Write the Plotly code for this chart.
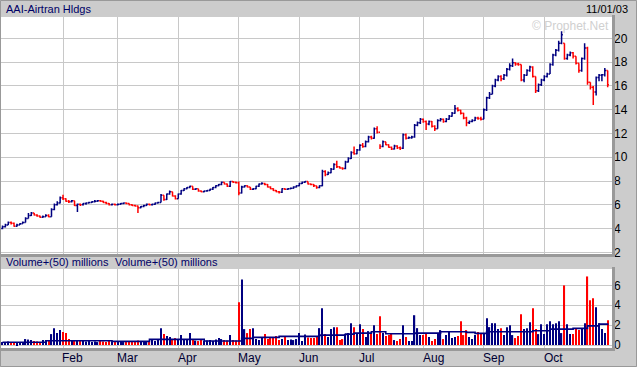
import plotly.graph_objects as go
import pandas as pd

# ---------------- data ----------------
holidays = ["2003-01-20", "2003-02-17", "2003-04-18", "2003-05-26", "2003-07-04", "2003-09-01"]
dates = [d for d in pd.bdate_range("2003-01-02", "2003-10-31") if d.strftime("%Y-%m-%d") not in holidays]

close_jan = [4.15,4.30,4.50,4.45,4.20,4.30,4.40,4.50,4.85,5.10,5.30,5.15,5.05,4.95,5.00,5.10,5.00,5.60,6.00,6.15,6.60]
open_jan  = [4.00,4.15,4.30,4.50,4.45,4.20,4.30,4.40,4.50,4.85,5.10,5.30,5.15,5.05,4.95,5.00,5.10,5.00,5.60,6.00,6.15]
high_jan  = [4.25,4.40,4.60,4.60,4.50,4.40,4.45,4.60,4.95,5.30,5.40,5.30,5.20,5.10,5.10,5.20,5.20,5.70,6.10,6.30,6.70]
low_jan   = [3.95,4.10,4.30,4.35,4.15,4.15,4.30,4.40,4.50,4.85,5.05,5.10,5.00,4.90,4.90,5.00,4.95,5.00,5.55,5.95,6.10]

close_feb = [6.50,6.30,6.25,6.35,5.95,6.05,6.00,6.10,6.15,6.20,6.25,6.30,6.35,6.30,6.20,6.10,6.00,6.05,6.00]
open_feb  = [6.60,6.50,6.30,6.25,6.35,5.95,6.05,6.00,6.10,6.15,6.20,6.25,6.30,6.35,6.30,6.20,6.10,6.00,6.05]
high_feb  = [6.85,6.55,6.40,6.40,6.35,6.10,6.10,6.15,6.20,6.25,6.30,6.40,6.40,6.40,6.35,6.25,6.15,6.10,6.10]
low_feb   = [6.40,6.25,6.15,6.20,5.90,5.40,5.90,5.95,6.00,6.10,6.15,6.20,6.25,6.25,6.15,6.05,5.95,5.95,5.95]

close_mar = [6.05,6.10,6.15,6.10,6.00,5.95,5.90,5.75,5.85,5.95,6.05,6.00,6.05,6.15,6.20,6.80,6.45,6.90,7.10,6.75,6.50]
open_mar  = [6.00,6.05,6.10,6.15,6.10,6.00,5.95,5.90,5.75,5.85,5.95,6.05,6.00,6.05,6.15,6.20,6.80,6.45,6.90,7.10,6.75]
high_mar  = [6.10,6.15,6.20,6.20,6.10,6.05,6.00,5.95,5.90,6.00,6.10,6.10,6.10,6.20,6.25,6.90,6.80,6.95,7.20,7.10,6.80]
low_mar   = [5.95,6.00,6.05,6.05,5.95,5.90,5.85,5.30,5.70,5.80,5.90,5.95,5.95,6.00,6.10,6.20,6.35,6.40,6.85,6.70,6.45]

close_apr = [6.90,7.20,7.35,7.45,7.55,7.30,7.35,7.15,7.10,7.15,7.20,7.30,7.45,7.60,7.70,7.90,7.75,7.55,7.95,7.90,7.85]
open_apr  = [6.50,6.90,7.20,7.35,7.45,7.55,7.30,7.35,7.15,7.10,7.15,7.20,7.30,7.45,7.60,7.70,7.90,7.75,7.55,7.95,7.90]
high_apr  = [6.95,7.25,7.40,7.50,7.60,7.55,7.40,7.35,7.20,7.20,7.25,7.35,7.50,7.65,7.75,7.95,7.90,7.80,8.00,8.00,7.95]
low_apr   = [6.50,6.85,7.15,7.30,7.40,7.25,7.25,7.10,7.05,7.05,7.10,7.15,7.25,7.40,7.55,7.65,7.70,7.50,7.50,7.85,7.80]

close_may = [7.00,7.50,7.60,7.50,7.30,7.35,7.55,7.75,7.80,7.70,7.50,7.35,7.20,7.10,7.05,7.35,7.30,7.35,7.40,7.50,7.60]
open_may  = [7.85,7.00,7.50,7.60,7.50,7.30,7.35,7.55,7.75,7.80,7.70,7.50,7.35,7.20,7.10,7.05,7.35,7.30,7.35,7.40,7.50]
high_may  = [7.95,7.60,7.65,7.65,7.50,7.40,7.60,7.80,7.90,7.85,7.75,7.55,7.40,7.25,7.15,7.40,7.40,7.40,7.45,7.55,7.65]
low_may   = [6.80,6.95,7.45,7.45,7.25,7.25,7.30,7.50,7.70,7.65,7.45,7.30,7.15,7.05,6.95,7.00,7.25,7.25,7.30,7.35,7.45]

close_jun = [7.80,7.90,7.95,7.75,7.70,7.60,7.45,7.60,8.80,8.55,8.70,9.00,9.40,9.20,9.10,9.05,9.60,9.90,10.40,10.30,10.60]
open_jun  = [7.60,7.80,7.90,7.95,7.75,7.70,7.60,7.45,7.60,8.80,8.55,8.70,9.00,9.40,9.20,9.10,9.05,9.60,9.90,10.40,10.30]
high_jun  = [7.85,7.95,8.00,7.95,7.80,7.75,7.60,7.65,8.95,8.90,8.80,9.10,9.50,9.70,9.25,9.15,9.70,10.00,10.50,10.90,10.70]
low_jun   = [7.55,7.75,7.85,7.70,7.65,7.50,7.35,7.40,7.55,8.40,8.50,8.65,8.95,9.10,9.05,8.95,9.00,9.55,9.85,10.20,10.25]

close_jul = [11.00,10.90,11.30,11.70,11.60,12.40,12.10,10.90,11.30,11.05,10.85,10.70,10.95,10.80,10.75,11.90,11.60,11.65,11.70,12.70,12.90,13.20]
open_jul  = [10.60,11.00,10.90,11.30,11.70,11.60,12.40,12.10,10.90,11.30,11.05,10.85,10.70,10.95,10.80,10.75,11.90,11.60,11.65,11.70,12.70,12.90]
high_jul  = [11.10,11.20,11.40,11.80,11.80,12.50,12.60,11.10,11.40,11.30,11.10,10.90,11.05,11.00,10.90,12.00,12.00,11.75,11.80,12.80,13.00,13.30]
low_jul   = [10.55,10.80,10.85,11.25,11.50,11.55,12.00,10.70,10.85,11.00,10.80,10.60,10.65,10.70,10.60,10.70,11.50,11.55,11.55,11.65,12.60,12.80]

close_aug = [13.00,12.80,13.00,12.60,12.40,13.10,13.20,13.00,13.20,13.45,13.70,14.10,13.95,13.70,13.30,12.90,13.00,13.10,13.30,13.25,13.20]
open_aug  = [13.20,13.00,12.80,13.00,12.60,12.40,13.10,13.20,13.00,13.20,13.45,13.70,14.10,13.95,13.70,13.30,12.90,13.00,13.10,13.30,13.25]
high_aug  = [13.25,13.10,13.10,13.05,12.70,13.20,13.30,13.25,13.30,13.55,13.80,14.40,14.20,14.00,13.75,13.40,13.10,13.20,13.40,13.40,13.40]
low_aug   = [12.90,12.30,12.70,12.50,12.20,12.40,13.00,12.90,12.95,13.15,13.40,13.65,13.85,13.60,13.20,12.60,12.80,12.95,13.05,13.15,13.10]

close_sep = [14.00,15.00,15.30,16.00,16.50,16.80,16.60,16.90,17.40,17.70,17.95,17.85,17.80,16.50,16.90,17.30,17.60,16.80,15.60,16.10,16.50]
open_sep  = [13.20,14.00,15.00,15.30,16.00,16.50,16.80,16.60,16.90,17.40,17.70,17.95,17.85,17.80,16.50,16.90,17.30,17.60,16.80,15.60,16.10]
high_sep  = [14.10,15.10,15.50,16.10,16.60,16.90,16.90,17.00,17.50,17.90,18.30,18.00,17.95,17.80,17.00,17.40,17.70,17.65,16.80,16.20,16.60]
low_sep   = [13.20,13.90,14.90,15.30,15.90,16.40,16.40,16.50,16.80,17.30,17.60,17.70,17.70,16.40,16.30,16.85,17.20,16.70,15.40,15.50,16.00]

close_oct = [16.80,17.00,17.80,18.60,19.00,19.60,20.30,18.30,18.60,18.80,18.50,17.90,17.30,18.30,19.20,16.30,15.90,15.50,16.70,16.90,16.95,17.30,16.10]
open_oct  = [16.50,16.80,17.00,17.80,18.60,19.00,19.60,19.60,18.30,18.60,18.80,18.50,17.90,17.30,18.30,19.20,16.30,15.90,15.50,16.70,16.90,16.95,17.30]
high_oct  = [16.90,17.10,17.90,18.70,19.10,19.80,20.60,19.60,18.70,18.90,18.85,18.50,17.90,18.40,19.60,19.30,16.30,16.00,16.80,17.00,17.00,17.50,17.30]
low_oct   = [16.40,16.70,17.00,17.70,18.50,18.90,19.50,18.20,18.20,18.50,18.30,17.80,17.10,17.20,18.20,16.10,15.70,14.40,15.20,16.40,16.40,16.80,15.90]

vol_jan = [0.30,0.25,0.35,0.30,0.30,0.20,0.30,0.25,0.60,0.55,0.50,0.40,0.35,0.30,0.50,0.45,0.40,1.10,1.70,1.20,1.50]
vol_feb = [1.30,1.20,0.60,0.40,0.45,0.50,0.45,0.40,0.35,0.40,0.30,0.35,0.30,0.40,0.35,0.30,0.40,0.35,0.30]
vol_mar = [0.30,0.35,0.30,0.40,0.30,0.35,0.30,0.45,0.40,0.35,0.40,0.30,0.50,0.40,0.60,1.70,1.10,0.90,0.80,0.60,0.70]
vol_apr = [0.50,1.00,0.60,0.50,1.20,0.60,0.45,0.40,0.50,0.40,0.45,0.50,0.40,0.55,0.70,0.60,0.50,0.45,1.00,0.50,0.45]
vol_may = [4.30,6.60,1.60,1.20,1.60,1.70,0.60,0.50,0.70,1.10,0.60,0.80,0.70,0.90,0.50,0.60,0.80,0.50,0.55,0.50,0.60]
vol_jun = [1.20,0.40,1.05,0.75,0.70,0.70,0.80,1.70,3.70,1.10,0.80,1.60,1.80,1.80,0.50,0.60,1.10,1.20,2.20,1.80,1.10]
vol_jul = [2.10,1.60,0.80,1.40,1.10,2.00,1.10,2.90,1.20,0.90,1.00,1.20,0.50,0.40,0.60,2.00,0.80,0.40,0.40,3.00,1.70,1.00]
vol_aug = [1.00,1.10,0.80,0.40,0.60,1.10,1.50,0.60,1.00,1.30,0.70,0.80,0.90,2.40,1.00,1.50,0.80,0.60,1.00,1.30,1.10]
vol_sep = [1.10,2.70,1.80,2.20,2.20,1.60,1.70,1.00,1.80,2.00,1.00,0.70,0.90,3.10,1.60,1.70,2.30,3.70,1.60,1.10,2.10]
vol_oct = [1.10,2.10,2.40,2.10,2.20,2.40,1.20,6.00,2.10,1.10,1.10,1.60,1.50,1.60,2.20,6.90,4.50,4.70,3.80,2.20,1.60,1.20,2.50]

# 50-day average volume line (stepped), read at the days where it changes
avg_day = [0, 15, 38, 51, 70, 83, 87, 96, 110, 119, 122, 128, 133, 143, 152, 161, 164, 168, 184, 190, 198, 203, 207, 210]
avg_val = [0.28, 0.43, 0.37, 0.57, 0.40, 0.67, 0.77, 0.87, 1.00, 1.10, 1.20, 1.33, 1.13, 1.20, 1.33, 1.27, 1.17, 1.33, 1.43, 1.60, 1.67, 1.93, 2.10, 2.00]

price_ticks = [2, 4, 6, 8, 10, 12, 14, 16, 18, 20]
vol_ticks = [0, 2, 4, 6]

closes = close_jan + close_feb + close_mar + close_apr + close_may + close_jun + close_jul + close_aug + close_sep + close_oct
opens = open_jan + open_feb + open_mar + open_apr + open_may + open_jun + open_jul + open_aug + open_sep + open_oct
highs = high_jan + high_feb + high_mar + high_apr + high_may + high_jun + high_jul + high_aug + high_sep + high_oct
lows = low_jan + low_feb + low_mar + low_apr + low_may + low_jun + low_jul + low_aug + low_sep + low_oct
vols = vol_jan + vol_feb + vol_mar + vol_apr + vol_may + vol_jun + vol_jul + vol_aug + vol_sep + vol_oct

n = len(dates)
idx = list(range(n))
month_start = [i for i in range(1, n) if dates[i].month != dates[i - 1].month]
month_names = [dates[i].strftime("%b") for i in month_start]

UP = "#000080"
DOWN = "#ff0000"
GRID = "#c8c8c8"
FONT = "Liberation Sans, Arial, sans-serif"

vcolors = [UP if closes[i] >= opens[i] else DOWN for i in idx]

fig = go.Figure()
fig.add_trace(go.Ohlc(
    x=idx, open=opens, high=highs, low=lows, close=closes,
    increasing=dict(line=dict(color=UP, width=1.5)),
    decreasing=dict(line=dict(color=DOWN, width=1.5)),
    tickwidth=0.45, xaxis="x", yaxis="y", hoverinfo="skip",
))
fig.add_trace(go.Bar(
    x=idx, y=vols, marker=dict(color=vcolors, line=dict(width=0)),
    width=0.42, xaxis="x2", yaxis="y2", hoverinfo="skip",
))
fig.add_trace(go.Scatter(
    x=avg_day, y=avg_val, mode="lines", line=dict(color=UP, width=1.6, shape="hv"),
    xaxis="x2", yaxis="y2", hoverinfo="skip",
))

W, H = 637, 367
def px(v):
    return v / W
def py(v):
    return 1 - v / H

xr = [-0.52, 211.5]
xdom = [px(1), px(612)]
common_x = dict(domain=xdom, range=xr, tickvals=month_start, showticklabels=False,
                showgrid=True, gridcolor=GRID, gridwidth=1, zeroline=False, ticks="",
                showline=False, fixedrange=True, automargin=False)
common_y = dict(side="right", showgrid=True, gridcolor=GRID, gridwidth=1, zeroline=False, ticks="",
                tickfont=dict(family=FONT, size=12, color="black"), ticklabelstandoff=1,
                automargin=False, fixedrange=True)
fig.update_layout(
    width=W, height=H, margin=dict(l=0, r=0, t=0, b=0, autoexpand=False),
    paper_bgcolor="#cccccc", plot_bgcolor="white", showlegend=False,
    xaxis=dict(anchor="y", rangeslider=dict(visible=False), **common_x),
    xaxis2=dict(anchor="y2", **common_x),
    yaxis=dict(domain=[py(254), py(17)], range=[1.86, 21.8], tickvals=price_ticks, anchor="x", **common_y),
    yaxis2=dict(domain=[py(348), py(269)], range=[-0.3, 7.65], tickvals=vol_ticks, anchor="x2", **common_y),
)

# darker bevel borders around the plot panels
shapes = []
for (t, b) in [(17, 254), (269, 348)]:
    shapes.append(dict(type="line", xref="paper", yref="paper", x0=px(613.5), x1=px(613.5),
                       y0=py(t - 2), y1=py(b + 2), line=dict(color="#999999", width=3)))
    shapes.append(dict(type="line", xref="paper", yref="paper", x0=px(0), x1=px(615),
                       y0=py(b + 1.5), y1=py(b + 1.5), line=dict(color="#999999", width=3)))
shapes.append(dict(type="rect", xref="paper", yref="paper", x0=px(0.5), x1=px(636.5), y0=py(366.5), y1=py(0.5),
                   line=dict(color="#999999", width=1)))
fig.update_layout(shapes=shapes)

ann = [
    dict(text="AAI-Airtran Hldgs", x=px(4), y=py(9), xanchor="left", yanchor="middle",
         font=dict(family=FONT, size=11, color="#000066")),
    dict(text="11/01/03", x=px(630), y=py(9), xanchor="right", yanchor="middle",
         font=dict(family=FONT, size=11, color="black")),
    dict(text="© Prophet.Net", x=px(611), y=py(26), xanchor="right", yanchor="middle",
         font=dict(family=FONT, size=12, color="#d0d0d0")),
    dict(text="Volume+(50) millions", x=px(4), y=py(262), xanchor="left", yanchor="middle",
         font=dict(family=FONT, size=11, color="#000066")),
    dict(text="Volume+(50) millions", x=px(113), y=py(262), xanchor="left", yanchor="middle",
         font=dict(family=FONT, size=11, color="#000066")),
]
for a in ann:
    a.update(xref="paper", yref="paper", showarrow=False)
for i, name in zip(month_start, month_names):
    ann.append(dict(text=name, x=i - 0.9, xref="x2", y=py(358), yref="paper", xanchor="left",
                    yanchor="middle", showarrow=False, font=dict(family=FONT, size=12, color="#000033")))
fig.update_layout(annotations=ann)

fig.write_html("out.html", config={"displayModeBar": False},
               post_script="document.body.style.margin='0px';document.body.style.overflow='hidden';")
